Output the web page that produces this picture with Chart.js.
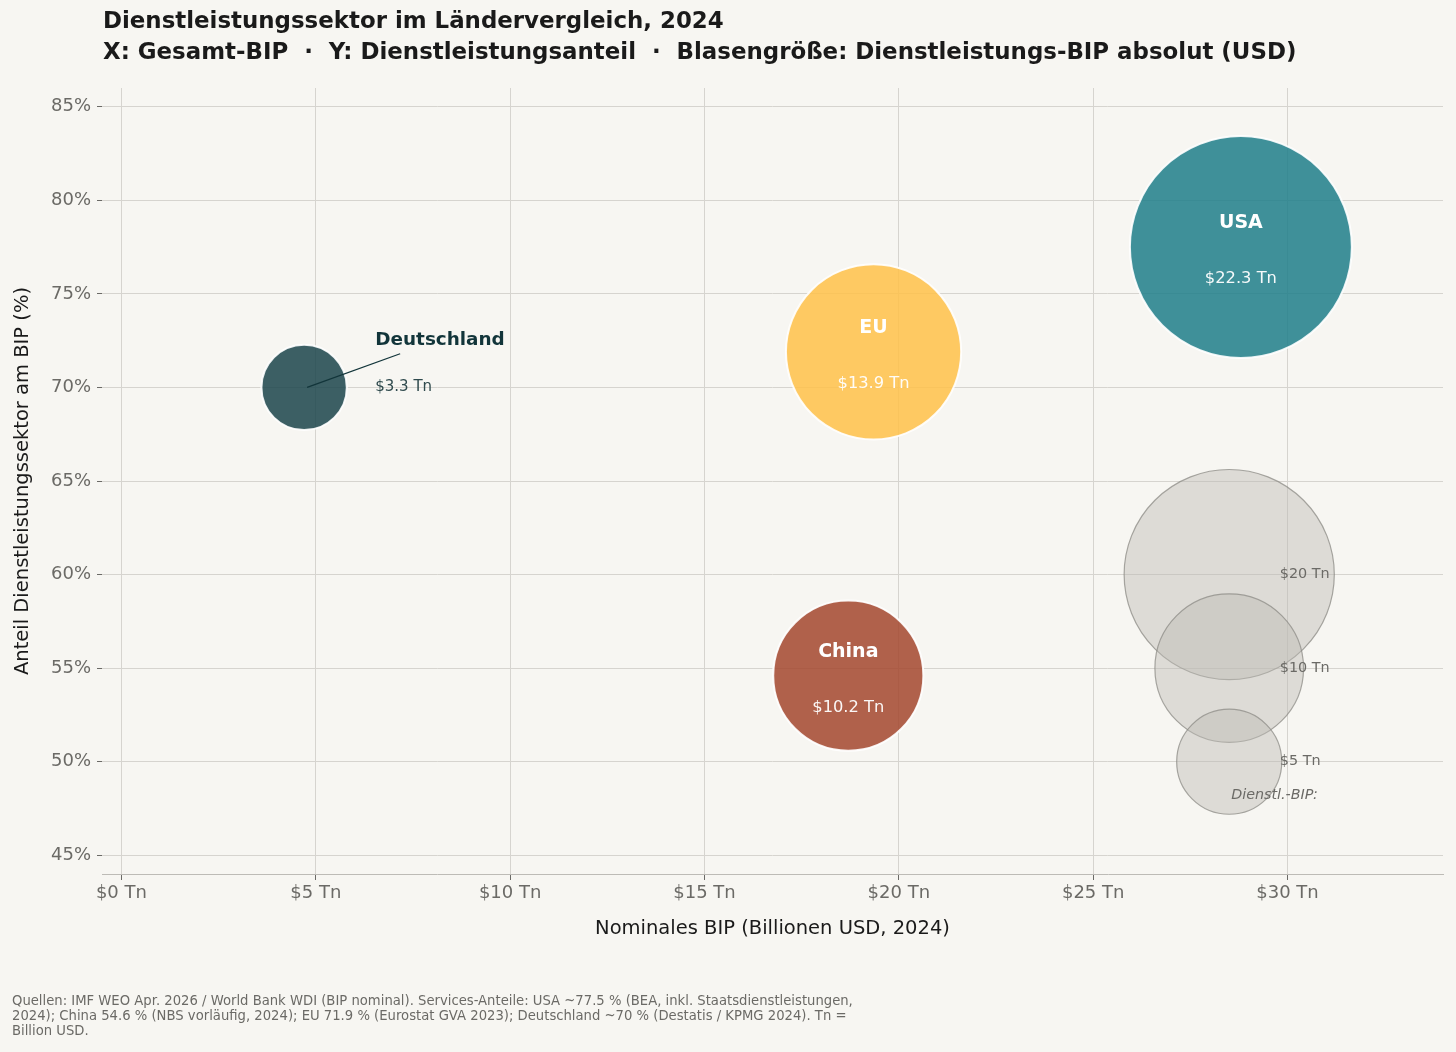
<!DOCTYPE html>
<html>
<head>
<meta charset="utf-8">
<script src="https://cdn.jsdelivr.net/npm/chart.js@4.4.1/dist/chart.umd.min.js"></script>
<style>
  html, body { margin: 0; padding: 0; background: #f7f6f2; }
  #wrap { width: 1456px; height: 1052px; }
</style>
</head>
<body>
<div id="wrap"><canvas id="bubbleChart"></canvas></div>
<script>
// Daten
const countries = ["USA", "EU", "China", "Deutschland"];
const gdpTotal = [28.8, 19.35, 18.7, 4.7];       // Billionen USD
const serviceShare = [77.5, 71.9, 54.6, 70.0];  // % des BIP
const serviceGdp = [22.3, 13.9, 10.2, 3.3];     // Billionen USD
const countryColors = [
  "rgba(31, 126, 137, 0.85)",
  "rgba(255, 193, 73, 0.85)",
  "rgba(163, 70, 46, 0.85)",
  "rgba(27, 68, 75, 0.85)",
];

// Größenlegende
const legendSizes = [20, 10, 5];
const legendShares = [60, 55, 50];
const legendX = 28.5;

const xTicks = [0, 5, 10, 15, 20, 25, 30];
const yTicks = [45, 50, 55, 60, 65, 70, 75, 80, 85];

const titleLines = [
  "Dienstleistungssektor im Ländervergleich, 2024",
  "X: Gesamt-BIP  ·  Y: Dienstleistungsanteil  ·  Blasengröße: Dienstleistungs-BIP absolut (USD)",
];
const footerLines = [
  "Quellen: IMF WEO Apr. 2026 / World Bank WDI (BIP nominal). Services-Anteile: USA ~77.5 % (BEA, inkl. Staatsdienstleistungen,",
  "2024); China 54.6 % (NBS vorläufig, 2024); EU 71.9 % (Eurostat GVA 2023); Deutschland ~70 % (Destatis / KPMG 2024). Tn =",
  "Billion USD.",
];

const FONT = "'DejaVu Sans', sans-serif";
const R_SCALE = 23.5; // Pixel pro sqrt(Billionen)
const radius = (v) => Math.sqrt(v) * R_SCALE;

const fmtTn = (v) => "$" + v + " Tn";

const labelPlugin = {
  id: "labels",
  afterDatasetsDraw(chart) {
    const ctx = chart.ctx;
    const xs = chart.scales.x;
    const ys = chart.scales.y;
    const meta = chart.getDatasetMeta(1);
    ctx.save();
    countries.forEach((name, i) => {
      const pt = meta.data[i];
      if (name === "Deutschland") {
        // Annotation mit Linie
        ctx.strokeStyle = "#12353a";
        ctx.lineWidth = 1.3;
        ctx.beginPath();
        ctx.moveTo(pt.x + 3, pt.y);
        ctx.lineTo(xs.getPixelForValue(7.17), ys.getPixelForValue(71.8));
        ctx.stroke();
        ctx.textAlign = "left";
        ctx.textBaseline = "middle";
        ctx.fillStyle = "#12353a";
        ctx.font = "bold 18.4px " + FONT;
        ctx.fillText(name, xs.getPixelForValue(6.53), ys.getPixelForValue(72.5));
        ctx.fillStyle = "#2f4a4d";
        ctx.font = "15px " + FONT;
        ctx.fillText(fmtTn(serviceGdp[i]), xs.getPixelForValue(6.53), pt.y);
      } else {
        ctx.textAlign = "center";
        ctx.textBaseline = "middle";
        ctx.fillStyle = "#ffffff";
        ctx.font = "bold 19px " + FONT;
        ctx.fillText(name, pt.x, pt.y - 24);
        ctx.font = "16.3px " + FONT;
        ctx.fillStyle = "rgba(255,255,255,0.95)";
        ctx.fillText(fmtTn(serviceGdp[i]), pt.x, pt.y + 32);
      }
    });
    // Größenlegende beschriften
    ctx.textAlign = "left";
    ctx.textBaseline = "middle";
    ctx.fillStyle = "#6b6a66";
    ctx.font = "14.4px " + FONT;
    legendSizes.forEach((s, j) => {
      ctx.fillText(fmtTn(s), xs.getPixelForValue(29.8), ys.getPixelForValue(legendShares[j]));
    });
    ctx.font = "italic 14.3px " + FONT;
    ctx.fillText("Dienstl.-BIP:", xs.getPixelForValue(28.55), ys.getPixelForValue(48.2));
    ctx.restore();
  },
  afterDraw(chart) {
    const ctx = chart.ctx;
    ctx.save();
    ctx.textAlign = "left";
    ctx.textBaseline = "middle";
    ctx.fillStyle = "#1a1a1a";
    ctx.font = "bold 22.9px " + FONT;
    ctx.fillText(titleLines[0], 103, 22);
    ctx.fillText(titleLines[1], 103, 53);
    ctx.fillStyle = "#6b6a66";
    ctx.font = "13.2px " + FONT;
    footerLines.forEach((l, k) => ctx.fillText(l, 12, 1002 + k * 15));
    ctx.restore();
  },
};

const bgPlugin = {
  id: "bg",
  beforeDraw(chart) {
    const ctx = chart.ctx;
    ctx.save();
    ctx.fillStyle = "#f7f6f2";
    ctx.fillRect(0, 0, chart.width, chart.height);
    ctx.restore();
  },
};

const noPad = (s) => {
  s.paddingLeft = 0;
  s.paddingRight = 0;
  s.paddingTop = 0;
  s.paddingBottom = 0;
};

const ctx = document.getElementById("bubbleChart").getContext("2d");
new Chart(ctx, {
  type: "bubble",
  data: {
    datasets: [
      {
        label: "Legende",
        data: legendSizes.map((s, j) => ({ x: legendX, y: legendShares[j], r: radius(s) })),
        backgroundColor: "rgba(188, 186, 180, 0.45)",
        borderColor: "rgba(140, 139, 134, 0.75)",
        borderWidth: 1.2,
        clip: false,
      },
      {
        label: "Länder",
        data: countries.map((c, i) => ({ x: gdpTotal[i], y: serviceShare[i], r: radius(serviceGdp[i]) })),
        backgroundColor: countryColors,
        borderColor: "rgba(255,255,255,0.9)",
        borderWidth: 2,
        clip: false,
      },
    ],
  },
  options: {
    responsive: true,
    maintainAspectRatio: false,
    animation: false,
    events: [],
    layout: { autoPadding: false, padding: { top: 88, right: 13, bottom: 98, left: 0 } },
    plugins: {
      legend: { display: false },
      tooltip: { enabled: false },
      title: { display: false },
    },
    scales: {
      x: {
        type: "linear",
        min: -0.5,
        max: 34,
        afterFit: (s) => { s.height = 80; noPad(s); },
        afterBuildTicks: (s) => { s.ticks = xTicks.map((v) => ({ value: v })); },
        ticks: {
          includeBounds: false,
          callback: (v) => fmtTn(v),
          color: "#6b6a66",
          font: { family: FONT, size: 18 },
          padding: 3,
          maxRotation: 0,
        },
        grid: { color: "#d6d4cf", lineWidth: 1, tickLength: 6, tickColor: "#6b6a66" },
        border: { display: true, color: "#bdbbb6" },
        title: {
          display: true,
          text: "Nominales BIP (Billionen USD, 2024)",
          color: "#1a1a1a",
          font: { family: FONT, size: 19.5 },
          padding: { top: 0, bottom: 13 },
        },
      },
      y: {
        type: "linear",
        min: 44,
        max: 86,
        afterFit: (s) => { s.width = 102; noPad(s); },
        afterBuildTicks: (s) => { s.ticks = yTicks.map((v) => ({ value: v })); },
        ticks: {
          includeBounds: false,
          callback: (v) => v + "%",
          color: "#6b6a66",
          font: { family: FONT, size: 18 },
          padding: 6,
        },
        grid: { color: "#d6d4cf", lineWidth: 1, tickLength: 5, tickColor: "#6b6a66" },
        border: { display: false },
        title: {
          display: true,
          text: "Anteil Dienstleistungssektor am BIP (%)",
          color: "#1a1a1a",
          font: { family: FONT, size: 19.5 },
          padding: { top: 11, bottom: 0 },
        },
      },
    },
  },
  plugins: [bgPlugin, labelPlugin],
});
</script>
</body>
</html>
